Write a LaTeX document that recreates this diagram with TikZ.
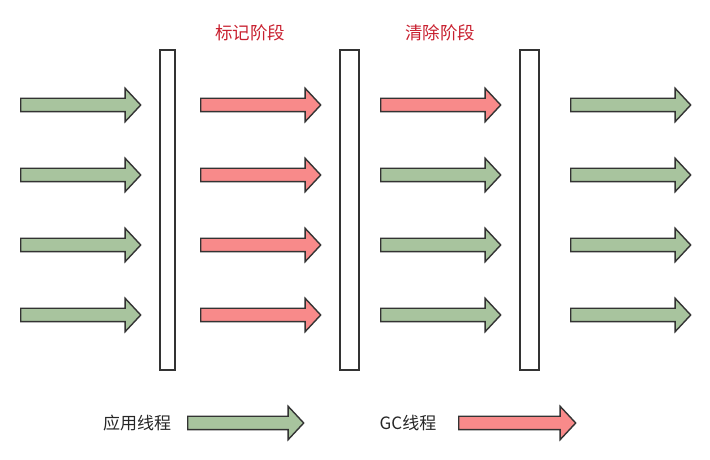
\documentclass[tikz,border=0pt]{standalone}
\usepackage{fontspec}
\setmainfont{Noto Sans CJK SC}
\usetikzlibrary{shapes.arrows}

\definecolor{appgreen}{HTML}{A8C49E}
\definecolor{gcred}{HTML}{F88A8A}
\definecolor{edgegray}{HTML}{333333}
\definecolor{phasered}{HTML}{C8202F}

\begin{document}
\begin{tikzpicture}[x=1pt,y=1pt]
\tikzstyle{thread}   = [single arrow, draw=edgegray, line width=1.4pt, minimum height=120pt, minimum width=32pt, inner xsep=0pt, inner ysep=6pt, single arrow head extend=10pt, single arrow tip angle=94, anchor=tail]
\tikzstyle{app}      = [thread, fill=appgreen]
\tikzstyle{gc}       = [thread, fill=gcred]
\tikzstyle{pause}    = [rectangle, draw=edgegray, line width=1.4pt, minimum height=320pt, inner sep=0pt]
\tikzstyle{phase}    = [text=phasered, font=\fontsize{17.5}{20}\selectfont]
\tikzstyle{legend}   = [text=black!85, font=\fontsize{17}{20}\selectfont]

\useasboundingbox (0,0) rectangle (710,460);

% safe points
\node (stop1) [pause, minimum width=15pt] at (167.5,250) {};
\node (stop2) [pause, minimum width=19pt] at (349.5,250) {};
\node (stop3) [pause, minimum width=19pt] at (529.5,250) {};

\node (mark)  [phase] at (250,427) {标记阶段};
\node (sweep) [phase] at (440,427) {清除阶段};

% four threads per column
\foreach \row/\y in {1/355, 2/285, 3/215, 4/145} {
  \node (a\row) [app] at (20,\y)  {};
  \node (b\row) [gc]  at (200,\y) {};
  \node (d\row) [app] at (570,\y) {};
}
\node (c1) [gc]  at (380,355) {};
\node (c2) [app] at (380,285) {};
\node (c3) [app] at (380,215) {};
\node (c4) [app] at (380,145) {};

% legend
\node (applabel) [legend] at (137,37) {应用线程};
\node (appkey)   [app, minimum height=116pt] at (187,37) {};
\node (gclabel)  [legend] at (408,37) {GC线程};
\node (gckey)    [gc, minimum height=117pt] at (458,37) {};
\end{tikzpicture}
\end{document}
